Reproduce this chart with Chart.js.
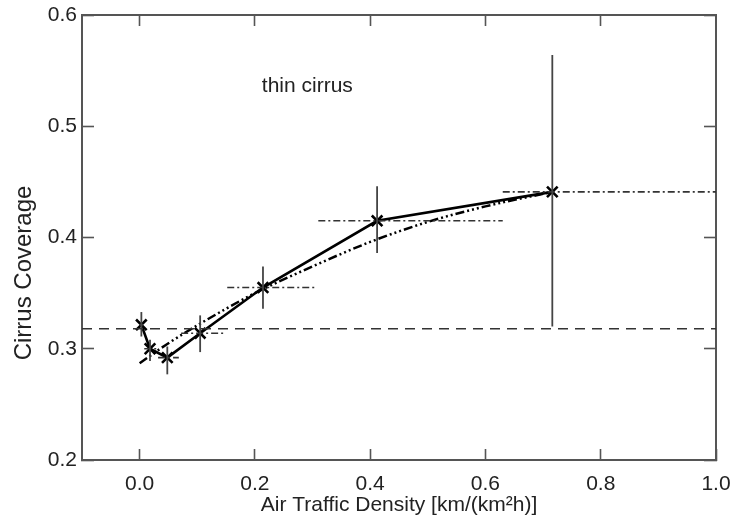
<!DOCTYPE html>
<html><head><meta charset="utf-8">
<script src="https://cdn.jsdelivr.net/npm/chart.js@4"></script>
<style>html,body{margin:0;padding:0;background:#fff}#wrap{width:732px;height:515px}</style>
</head><body><div id="wrap"><canvas id="c" width="732" height="515"></canvas></div>
<script>
// ---- data ----
const xTicks = [0.0, 0.2, 0.4, 0.6, 0.8, 1.0];
const xTopTicks = [0.0, 0.2, 0.4, 0.6, 0.8];
const yTicks = [0.2, 0.3, 0.4, 0.5, 0.6];
const density = [0.003, 0.018, 0.048, 0.105, 0.214, 0.412, 0.716];
const coverage = [0.3215, 0.300, 0.292, 0.314, 0.355, 0.415, 0.441];
const coverageLow = [0.311, 0.289, 0.277, 0.297, 0.336, 0.386, 0.320];
const coverageHigh = [0.333, 0.308, 0.302, 0.330, 0.374, 0.446, 0.564];
const densityLow = [0.0, 0.008, 0.032, 0.072, 0.152, 0.310, 0.630];
const densityHigh = [0.006, 0.030, 0.068, 0.148, 0.308, 0.630, 1.0];
const fitX = [0, 0.05, 0.1, 0.15, 0.2, 0.3, 0.4, 0.5, 0.6, 0.716];
const fitY = [0.287, 0.305, 0.321, 0.336, 0.350, 0.374, 0.396, 0.414, 0.428, 0.441];
const refLevel = 0.318;
const refX = [-0.1, 1.0];
const noteText = 'thin cirrus';
const notePos = [0.212, 0.531];
const xTitle = 'Air Traffic Density [km/(km\u00B2h)]';
const yTitle = 'Cirrus Coverage';

const FONT = '"Liberation Sans", Arial, Helvetica, sans-serif';
const AX = '#555';

const datasets = [];
datasets.push({
  data: refX.map(x => ({x, y: refLevel})),
  borderColor: '#333', borderWidth: 1.6, borderDash: [10, 7], pointRadius: 0
});
density.forEach((x, i) => {
  datasets.push({
    data: [{x, y: coverageLow[i]}, {x, y: coverageHigh[i]}],
    borderColor: '#444', borderWidth: 1.8, pointRadius: 0
  });
  datasets.push({
    data: [{x: densityLow[i], y: coverage[i]}, {x: densityHigh[i], y: coverage[i]}],
    borderColor: '#333', borderWidth: 1.6, borderDash: [7, 3, 2, 3], pointRadius: 0
  });
});
datasets.push({
  data: fitX.map((x, i) => ({x, y: fitY[i]})),
  borderColor: '#000', borderWidth: 2.5, borderDash: [9, 3, 2, 3, 2, 3, 2, 3],
  pointRadius: 0, cubicInterpolationMode: 'monotone'
});
datasets.push({
  data: density.map((x, i) => ({x, y: coverage[i]})),
  borderColor: '#000', borderWidth: 2.6, pointStyle: 'crossRot', pointRadius: 7.5,
  pointBorderWidth: 2.6, pointBorderColor: '#000', pointBackgroundColor: '#000'
});

const textPlugin = {
  id: 'texts',
  afterDraw(chart) {
    const {ctx, scales: {x, y}} = chart;
    ctx.save();
    ctx.fillStyle = '#222';
    ctx.font = '21px ' + FONT;
    ctx.textAlign = 'left';
    ctx.textBaseline = 'alphabetic';
    ctx.fillText(noteText, x.getPixelForValue(notePos[0]), y.getPixelForValue(notePos[1]));
    ctx.font = '24px ' + FONT;
    ctx.translate(24, 273);
    ctx.rotate(-Math.PI / 2);
    ctx.textAlign = 'center';
    ctx.textBaseline = 'middle';
    ctx.fillText(yTitle, 0, 0);
    ctx.restore();
  }
};

const tickFont = {family: FONT, size: 21};
const noPad = s => { s.paddingLeft = 0; s.paddingRight = 0; s.paddingTop = 0; s.paddingBottom = 0; };

new Chart(document.getElementById('c'), {
  type: 'scatter',
  data: {datasets},
  options: {
    responsive: false, animation: false,
    showLine: true,
    layout: {padding: 0},
    plugins: {legend: {display: false}, tooltip: {enabled: false}},
    scales: {
      x: {
        type: 'linear', position: 'bottom', min: -0.1, max: 1.0,
        afterBuildTicks: s => { s.ticks = xTicks.map(v => ({value: v})); },
        afterFit: s => { s.height = 55; noPad(s); },
        ticks: {callback: v => Number(v).toFixed(1), font: tickFont, color: '#222', padding: 23, maxRotation: 0, autoSkip: false},
        grid: {drawOnChartArea: false, drawTicks: true, tickLength: -11, tickWidth: 1.6, tickColor: AX},
        border: {display: true, color: AX, width: 2},
        title: {display: true, text: xTitle, font: tickFont, color: '#222', padding: {top: 0, bottom: -3}}
      },
      x2: {
        type: 'linear', position: 'top', min: -0.1, max: 1.0,
        afterBuildTicks: s => { s.ticks = xTopTicks.map(v => ({value: v})); },
        afterFit: s => { s.height = 15; noPad(s); },
        ticks: {display: false},
        grid: {drawOnChartArea: false, drawTicks: true, tickLength: -11, tickWidth: 1.6, tickColor: AX},
        border: {display: true, color: AX, width: 2}
      },
      y: {
        type: 'linear', position: 'left', min: 0.2, max: 0.6,
        afterBuildTicks: s => { s.ticks = yTicks.map(v => ({value: v})); },
        afterFit: s => { s.width = 82; noPad(s); },
        ticks: {callback: v => Number(v).toFixed(1), font: tickFont, color: '#222', padding: 17, autoSkip: false},
        grid: {drawOnChartArea: false, drawTicks: true, tickLength: -12, tickWidth: 1.6, tickColor: AX},
        border: {display: true, color: AX, width: 2}
      },
      y2: {
        type: 'linear', position: 'right', min: 0.2, max: 0.6,
        afterBuildTicks: s => { s.ticks = yTicks.map(v => ({value: v})); },
        afterFit: s => { s.width = 16; noPad(s); },
        ticks: {display: false},
        grid: {drawOnChartArea: false, drawTicks: true, tickLength: -12, tickWidth: 1.6, tickColor: AX},
        border: {display: true, color: AX, width: 2}
      }
    }
  },
  plugins: [textPlugin]
});
</script></body></html>
